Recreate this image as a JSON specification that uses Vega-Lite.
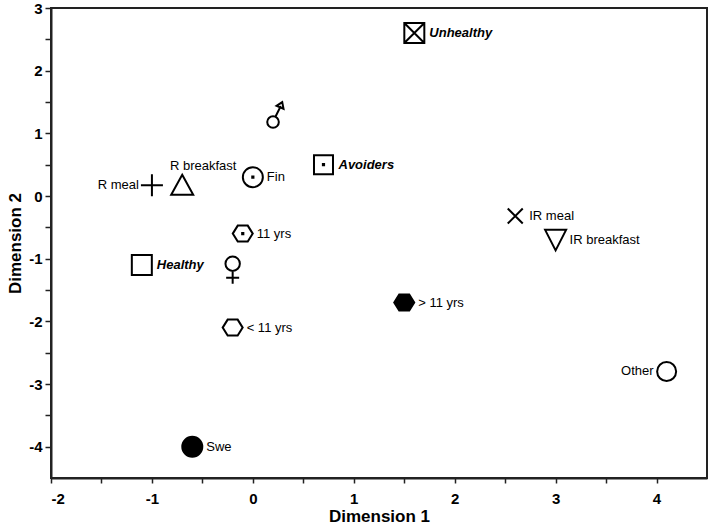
{
  "$schema": "https://vega.github.io/schema/vega-lite/v6.json",
  "autosize": "none",
  "width": 656,
  "height": 470,
  "padding": {"left": 51, "top": 8, "right": 2, "bottom": 53},
  "background": "white",
  "config": {
    "view": {"stroke": "#222", "strokeWidth": 2},
    "axis": {
      "grid": false,
      "domainColor": "#222",
      "domainWidth": 2,
      "tickColor": "#222",
      "tickWidth": 1.5,
      "labelFont": "Liberation Sans",
      "labelFontWeight": "bold",
      "labelFontSize": 15,
      "labelColor": "black",
      "titleFont": "Liberation Sans",
      "titleFontWeight": "bold",
      "titleFontSize": 17,
      "titleColor": "black"
    },
    "text": {"font": "Liberation Sans", "fontSize": 13, "color": "black"}
  },
  "data": {
    "values": [
      {"label": "Unhealthy", "x": 1.6, "y": 2.6},
      {"label": "Male", "x": 0.2, "y": 1.18},
      {"label": "Avoiders", "x": 0.7, "y": 0.5},
      {"label": "Fin", "x": 0.0, "y": 0.3},
      {"label": "R breakfast", "x": -0.7, "y": 0.18},
      {"label": "R meal", "x": -1.0, "y": 0.17},
      {"label": "11 yrs", "x": -0.1, "y": -0.6},
      {"label": "Healthy", "x": -1.1, "y": -1.1},
      {"label": "Female", "x": -0.2, "y": -1.08},
      {"label": "< 11 yrs", "x": -0.2, "y": -2.1},
      {"label": "IR meal", "x": 2.6, "y": -0.32},
      {"label": "IR breakfast", "x": 3.0, "y": -0.7},
      {"label": "> 11 yrs", "x": 1.5, "y": -1.7},
      {"label": "Swe", "x": -0.6, "y": -4.0},
      {"label": "Other", "x": 4.1, "y": -2.8}
    ]
  },
  "encoding": {
    "x": {
      "field": "x", "type": "quantitative",
      "scale": {"domain": [-2, 4.5], "nice": false, "zero": false},
      "axis": {
        "title": "Dimension 1",
        "values": [-2, -1.5, -1, -0.5, 0, 0.5, 1, 1.5, 2, 2.5, 3, 3.5, 4],
        "labelExpr": "datum.value % 1 === 0 ? '' + datum.value : ''",
        "tickSize": 5,
        "labelPadding": 8,
        "titlePadding": 2
      }
    },
    "y": {
      "field": "y", "type": "quantitative",
      "scale": {"domain": [-4.5, 3], "nice": false, "zero": false},
      "axis": {
        "title": "Dimension 2",
        "values": [-4, -3.5, -3, -2.5, -2, -1.5, -1, -0.5, 0, 0.5, 1, 1.5, 2, 2.5, 3],
        "labelExpr": "datum.value % 1 === 0 ? '' + datum.value : ''",
        "tickSize": 6,
        "labelPadding": 3,
        "titlePadding": 4
      }
    }
  },
  "layer": [
    {
      "mark": {"type": "point", "size": 400, "stroke": "black", "strokeWidth": 2, "opacity": 1},
      "encoding": {
        "shape": {
          "field": "label", "type": "nominal", "legend": null,
          "scale": {
            "domain": ["Unhealthy", "Male", "Avoiders", "Fin", "R breakfast", "R meal", "11 yrs", "Healthy", "Female", "< 11 yrs", "IR meal", "IR breakfast", "> 11 yrs", "Swe", "Other"],
            "range": [
              "M-1,-1H1V1H-1ZM-1,-1L1,1M1,-1L-1,1",
              "M0.58,0A0.58,0.58 0 1,1 -0.58,0A0.58,0.58 0 1,1 0.58,0ZM0.24,-0.53L0.78,-1.6M0.92,-2L0.35,-1.62L1.05,-1.32Z",
              "M-0.95,-0.95H0.95V0.95H-0.95ZM-0.06,-0.06H0.06V0.06H-0.06Z",
              "M1,0A1,1 0 1,1 -1,0A1,1 0 1,1 1,0ZM-0.06,-0.06H0.06V0.06H-0.06Z",
              "M0,-1L1.1,1H-1.1Z",
              "M-1.1,0H1.1M0,-1.1V1.1",
              "M-1,0L-0.5,-0.8H0.5L1,0L0.5,0.8H-0.5ZM-0.06,-0.06H0.06V0.06H-0.06Z",
              "M-1,-1H1V1H-1Z",
              "M0.72,0A0.72,0.72 0 1,1 -0.72,0A0.72,0.72 0 1,1 0.72,0ZM0,0.72V2M-0.65,1.4H0.65",
              "M-1,0L-0.5,-0.8H0.5L1,0L0.5,0.8H-0.5Z",
              "M-0.75,-0.75L0.75,0.75M0.75,-0.75L-0.75,0.75",
              "M-1.05,-1H1.05L0,1.05Z",
              "M-1,0L-0.5,-0.8H0.5L1,0L0.5,0.8H-0.5Z",
              "M1,0A1,1 0 1,1 -1,0A1,1 0 1,1 1,0Z",
              "M0.95,0A0.95,0.95 0 1,1 -0.95,0A0.95,0.95 0 1,1 0.95,0Z"
            ]
          }
        },
        "fill": {
          "condition": {"test": "datum.label === 'Swe' || datum.label === '> 11 yrs'", "value": "black"},
          "value": "transparent"
        }
      }
    },
    {
      "transform": [{"filter": {"field": "label", "oneOf": ["Fin", "11 yrs", "< 11 yrs", "> 11 yrs", "Swe", "IR meal", "IR breakfast"]}}],
      "mark": {"type": "text", "align": "left", "baseline": "middle", "dx": 14},
      "encoding": {"text": {"field": "label"}}
    },
    {
      "transform": [{"filter": {"field": "label", "oneOf": ["Unhealthy", "Avoiders", "Healthy"]}}],
      "mark": {"type": "text", "align": "left", "baseline": "middle", "dx": 15, "fontWeight": "bold", "fontStyle": "italic"},
      "encoding": {"text": {"field": "label"}}
    },
    {
      "transform": [{"filter": {"field": "label", "oneOf": ["R meal", "Other"]}}],
      "mark": {"type": "text", "align": "right", "baseline": "middle", "dx": -13},
      "encoding": {"text": {"field": "label"}}
    },
    {
      "transform": [{"filter": {"field": "label", "equal": "R breakfast"}}],
      "mark": {"type": "text", "align": "center", "baseline": "middle", "dx": 21, "dy": -19},
      "encoding": {"text": {"field": "label"}}
    }
  ]
}
